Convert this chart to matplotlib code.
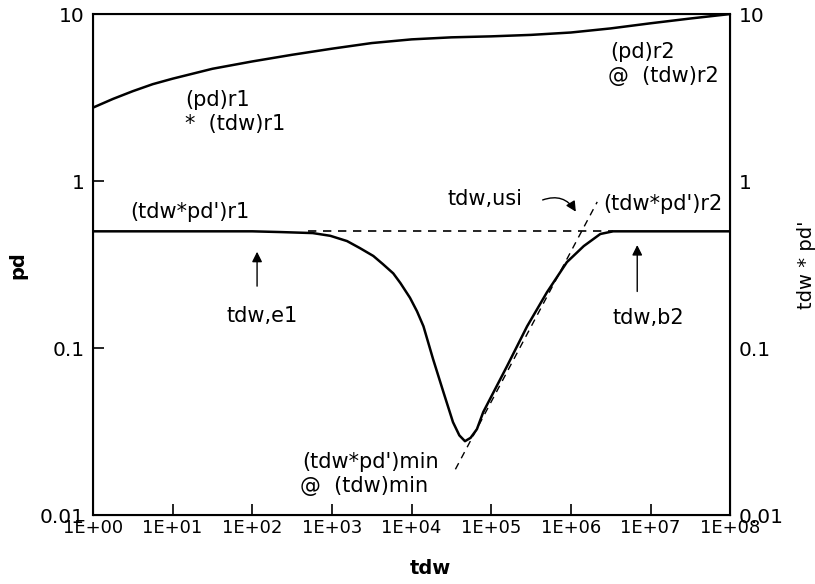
import matplotlib
matplotlib.use("Agg")
import matplotlib.pyplot as plt

plt.rcParams["font.family"] = ["DejaVu Sans"]

# pressure curve (pd)
tdw_pd = [1, 1.78, 3.16, 5.62, 10, 31.6, 100, 316, 1e3, 3.16e3, 1e4, 3.16e4,
          1e5, 3.16e5, 1e6, 3.16e6, 1e7, 3.16e7, 1e8]
pd = [2.75, 3.1, 3.45, 3.8, 4.1, 4.7, 5.2, 5.7, 6.2, 6.7, 7.05, 7.25,
      7.35, 7.5, 7.75, 8.2, 8.8, 9.4, 10.0]

# derivative curve (tdw * pd')
tdw_der = [1, 10, 100, 224, 575, 955, 1.55e3, 2.24e3, 3.31e3, 4.37e3,
           5.89e3, 7.24e3, 9.55e3, 1.17e4, 1.41e4, 1.86e4, 2.51e4, 3.31e4,
           3.98e4, 4.68e4, 5.5e4, 6.61e4, 7.94e4, 1.58e5, 2.82e5, 5.01e5,
           8.91e5, 1.45e6, 2.34e6, 3.39e6, 1e7, 1e8]
der = [0.5, 0.5, 0.5, 0.495, 0.488, 0.47, 0.437, 0.397, 0.356, 0.318,
       0.28, 0.245, 0.2, 0.166, 0.135, 0.086, 0.0545, 0.036, 0.030, 0.0277,
       0.0290, 0.0327, 0.0414, 0.078, 0.135, 0.216, 0.327, 0.408, 0.482,
       0.5, 0.5, 0.5]

# dashed reference lines
flat_x = [5e2, 3.4e6]
flat_y = [0.5, 0.5]
slope_x = [3.55e4, 2.14e6]
slope_y = [0.0188, 0.75]

xticks = [1, 1e1, 1e2, 1e3, 1e4, 1e5, 1e6, 1e7, 1e8]
xtick_labels = ["1E+00", "1E+01", "1E+02", "1E+03", "1E+04",
                "1E+05", "1E+06", "1E+07", "1E+08"]
yticks = [0.01, 0.1, 1, 10]
ytick_labels = ["0.01", "0.1", "1", "10"]

fig = plt.figure(figsize=(8.15, 5.84), dpi=100)
ax = fig.add_axes([0.114, 0.118, 0.782, 0.858])

ax.plot(tdw_pd, pd, "k", lw=1.8)
ax.plot(tdw_der, der, "k", lw=1.8)
ax.plot(flat_x, flat_y, "k--", lw=1.2, dashes=(5, 4))
ax.plot(slope_x, slope_y, "k--", lw=1.0, dashes=(5, 4))

ax.set_xscale("log")
ax.set_yscale("log")
ax.set_xlim(1, 1e8)
ax.set_ylim(0.01, 10)
ax.set_xticks(xticks)
ax.set_xticklabels(xtick_labels)
ax.set_yticks(yticks)
ax.set_yticklabels(ytick_labels)
ax.minorticks_off()
ax.tick_params(axis="both", direction="in", length=8, width=1.2)
ax.tick_params(axis="x", labelsize=13, pad=3)
ax.tick_params(axis="y", labelsize=14.5, pad=6)
for s in ax.spines.values():
    s.set_linewidth(1.5)

ax2 = ax.twinx()
ax2.set_yscale("log")
ax2.set_ylim(0.01, 10)
ax2.set_yticks(yticks)
ax2.set_yticklabels(ytick_labels)
ax2.minorticks_off()
ax2.tick_params(axis="y", length=0, labelsize=14.5, pad=6)

fig.text(430 / 815, 1 - 568 / 584, "tdw", fontsize=14, fontweight="bold",
         ha="center", va="center")
fig.text(18 / 815, 1 - 265 / 584, "pd", fontsize=14, fontweight="bold",
         rotation=90, ha="center", va="center")
fig.text(806 / 815, 1 - 265 / 584, "tdw * pd'", fontsize=14,
         rotation=90, ha="center", va="center")

fs = 15
ax.text(14.3, 3.05, "(pd)r1", fontsize=fs, va="center")
ax.text(14.3, 2.19, "*  (tdw)r1", fontsize=fs, va="center")
ax.text(3.14e6, 5.92, "(pd)r2", fontsize=fs, va="center")
ax.text(2.95e6, 4.25, "@  (tdw)r2", fontsize=fs, va="center")
ax.text(2.92, 0.652, "(tdw*pd')r1", fontsize=fs, va="center")
ax.text(2.55e6, 0.728, "(tdw*pd')r2", fontsize=fs, va="center")
ax.text(2.8e4, 0.78, "tdw,usi", fontsize=fs, va="center")
ax.text(423, 0.0208, "(tdw*pd')min", fontsize=fs, va="center")
ax.text(400, 0.0149, "@  (tdw)min", fontsize=fs, va="center")
ax.text(133, 0.155, "tdw,e1", fontsize=fs, ha="center", va="center")
ax.text(9.4e6, 0.151, "tdw,b2", fontsize=fs, ha="center", va="center")

arrow = dict(arrowstyle="-|>", color="k", lw=1.0, mutation_scale=15)
ax.annotate("", xy=(115, 0.392), xytext=(115, 0.226), arrowprops=arrow)
ax.annotate("", xy=(6.8e6, 0.43), xytext=(6.8e6, 0.21), arrowprops=arrow)
ax.annotate("", xy=(1.2e6, 0.634), xytext=(4.1e5, 0.76),
            arrowprops=dict(arrowstyle="-|>", color="k", lw=1.0,
                            mutation_scale=15,
                            connectionstyle="arc3,rad=-0.45"))

fig.savefig("out.png", dpi=100)
